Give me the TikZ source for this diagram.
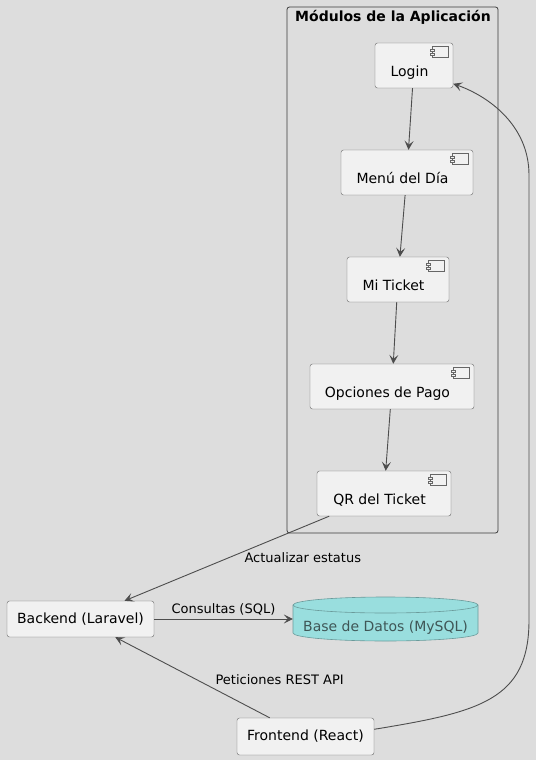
\documentclass[tikz,border=0pt]{standalone}
\usepackage{fontspec}
\setmainfont{DejaVu Sans}
\usepackage{tikz}
\usetikzlibrary{arrows.meta}
\definecolor{umlBack}{HTML}{DDDDDD}
\definecolor{umlFill}{HTML}{F1F1F1}
\definecolor{umlLine}{HTML}{666666}
\definecolor{umlFlow}{HTML}{4D4D4D}
\definecolor{umlFrame}{HTML}{3A3A3A}
\definecolor{dbCyan}{HTML}{99DEDE}
\definecolor{dbLine}{HTML}{6A9A9A}
\definecolor{dbText}{HTML}{3F5656}

\begin{document}
\begin{tikzpicture}[x=1pt,y=-1pt]
    \tikzstyle{compbox}=[draw=umlLine, fill=umlFill, rounded corners=2.5pt, minimum height=45,
      inner sep=0pt, text height=21pt, text depth=0pt, font=\fontsize{14}{16}\selectfont,
      execute at end node={\hspace*{9pt}},
      path picture={
        \draw[umlLine, sharp corners, line width=0.6pt] ([shift={(-21pt,-3pt)}]path picture bounding box.north east) rectangle ++(16pt,-11pt);
        \draw[umlLine, sharp corners, line width=0.6pt, fill=umlFill] ([shift={(-23pt,-6.5pt)}]path picture bounding box.north east) rectangle ++(4pt,-2pt);
        \draw[umlLine, sharp corners, line width=0.6pt, fill=umlFill] ([shift={(-23pt,-10pt)}]path picture bounding box.north east) rectangle ++(4pt,-2pt);
      }]
    \tikzstyle{plainbox}=[draw=umlLine, fill=umlFill, rounded corners=2.5pt, minimum height=37,
      inner sep=0pt, font=\fontsize{14}{16}\selectfont]
    \tikzstyle{flow}=[draw=umlFlow, line width=0.9pt, -{Stealth[length=9pt,width=9pt,inset=4pt]}]
    \tikzstyle{flowlabel}=[inner sep=1pt, text=black, font=\fontsize{13}{15}\selectfont]

    % background and package frame
    \fill[umlBack] (0,0) rectangle (536,760);
    \node[draw=umlFrame, line width=0.8pt, rounded corners=2.5pt, minimum width=211, minimum height=526] (modulos) at (392.5,270) {};
    \node[font=\fontsize{14}{16}\selectfont\bfseries] (modtitle) at (393,17) {Módulos de la Aplicación};

    % components of the package
    \node[compbox, minimum width=78] (login) at (414,65.5) {Login};
    \node[compbox, minimum width=132] (menu) at (407,172.5) {Menú del Día};
    \node[compbox, minimum width=102] (ticket) at (398,279.5) {Mi Ticket};
    \node[compbox, minimum width=164] (pago) at (392,386.5) {Opciones de Pago};
    \node[compbox, minimum width=134] (qr) at (384,493.5) {QR del Ticket};

    % outer parts
    \node[plainbox, minimum width=147, minimum height=36] (backend) at (80.5,619) {Backend (Laravel)};
    \node[plainbox, minimum width=137] (frontend) at (305.5,736.5) {Frontend (React)};

    % database drum
    \draw[dbLine, fill=dbCyan, line width=0.6pt] (293,605) -- (293,633)
      arc[start angle=180, end angle=0, x radius=92.5, y radius=8] -- (478,605)
      arc[start angle=360, end angle=180, x radius=92.5, y radius=8] -- cycle;
    \draw[dbLine, line width=0.6pt] (293,605) arc[start angle=180, end angle=0, x radius=92.5, y radius=8];
    \node[minimum width=185, minimum height=44, inner sep=0pt, text height=24pt, text depth=0pt,
      text=dbText, font=\fontsize{14}{16}\selectfont] (db) at (385.5,619) {Base de Datos (MySQL)};

    \draw[flow] (login) -- (menu);
    \draw[flow] (menu) -- (ticket);
    \draw[flow] (ticket) -- (pago);
    \draw[flow] (pago) -- (qr);
    \draw[flow] (qr) -- node[flowlabel, pos=0.494, right=15pt] {Actualizar estatus} (backend);
    \draw[flow] (backend) -- node[flowlabel, above=2pt] {Consultas (SQL)} (db);
    \draw[flow] (frontend) -- node[flowlabel, pos=0.47, right=17pt] {Peticiones REST API} (backend);
    \draw[flow] (frontend.6) .. controls (480,712) and (529,700) .. (529,620) -- (529,175)
      .. controls (529,125) and (488,96) .. (login.-25);
\end{tikzpicture}
\end{document}
